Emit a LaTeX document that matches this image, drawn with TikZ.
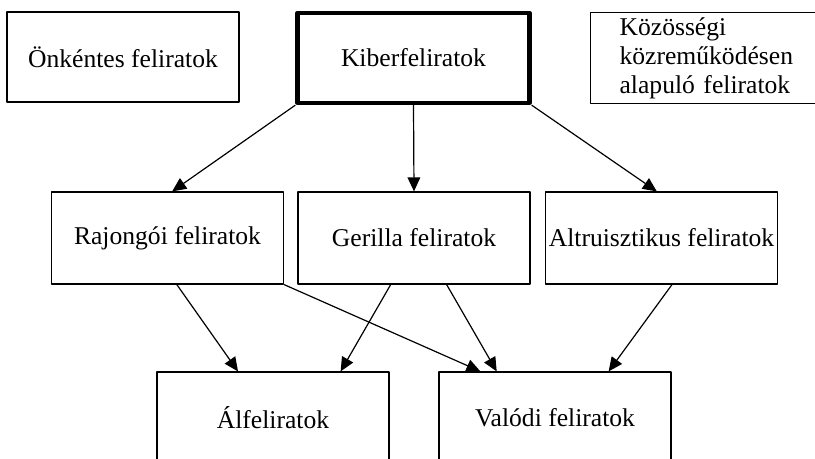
\documentclass[tikz,border=0pt]{standalone}
\usepackage{fontspec}
\setmainfont{Liberation Serif}
\usetikzlibrary{arrows.meta,calc}

\begin{document}
\begin{tikzpicture}[x=0.75pt,y=-0.75pt,>={Triangle[length=10.5pt,width=9.5pt]},line join=round,
	doboz/.style={draw,line width=0.9pt,minimum width=174pt,minimum height=69pt,inner sep=0pt,font=\fontsize{19.2}{21.75}\selectfont}]
	\def\W{815} \def\H{459} % keret
	\useasboundingbox (0,0) rectangle (\W,\H);
	\clip (0,0) rectangle (\W,\H);
	% felso sor
	\node[doboz,minimum height=67.5pt] (onk) at (123,57) {Önkéntes feliratok};
	\node[doboz,minimum height=67.5pt,line width=3.2pt] (kiber) at (413.5,58) {Kiberfeliratok};
	\node[doboz,minimum height=68.25pt,anchor=north west,align=left,text width=150pt,inner xsep=21.75pt] (kozos) at (590,12) {Közösségi\\közreműködésen\\alapuló feliratok};
	% kozepso sor
	\node[doboz] (raj) at (167.5,238) {Rajongói feliratok};
	\node[doboz] (ger) at (414,238) {Gerilla feliratok};
	\node[doboz] (alt) at (661.5,238) {Altruisztikus feliratok};
	% also sor
	\node[doboz] (alf) at (273,418) {Álfeliratok};
	\node[doboz] (val) at (555,418) {Valódi feliratok};
	\begin{scope}[line width=0.9pt]
	\draw[->] (kiber.south west) -- ($(raj.north west)!.52!(raj.north east)$);
	\draw[->] (kiber.south) -- (ger.north);
	\draw[->] (kiber.south east) -- ($(alt.north west)!.48!(alt.north east)$);
	\draw[->] ($(raj.south west)!.54!(raj.south east)$) -- ($(alf.north west)!.35!(alf.north east)$);
	\draw[->] (raj.south east) -- ($(val.north west)!.18!(val.north east)$);
	\draw[->] ($(ger.south west)!.4!(ger.south east)$) -- ($(alf.north west)!.79!(alf.north east)$);
	\draw[->] ($(ger.south west)!.64!(ger.south east)$) -- ($(val.north west)!.25!(val.north east)$);
	\draw[->] ($(alt.south west)!.545!(alt.south east)$) -- ($(val.north west)!.73!(val.north east)$);
	\end{scope}
\end{tikzpicture}
\end{document}
